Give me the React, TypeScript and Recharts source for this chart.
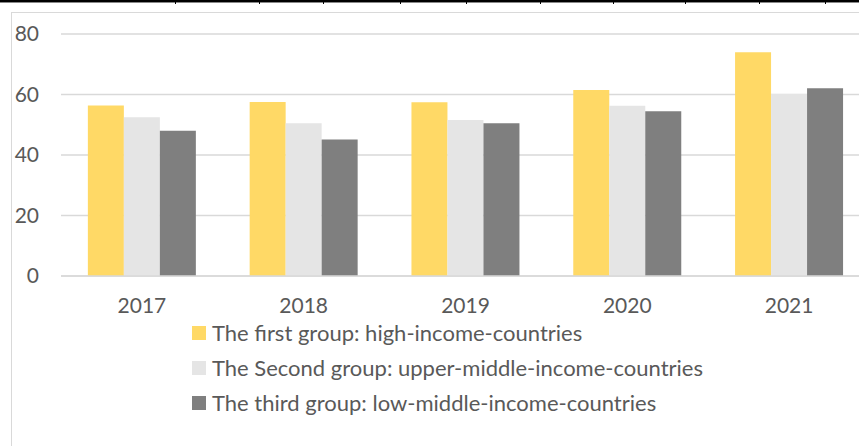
import { Bar, BarChart, CartesianGrid, Legend, XAxis, YAxis } from "recharts"

const years = ["2017", "2018", "2019", "2020", "2021"]
const firstGroup = [56.4, 57.5, 57.4, 61.5, 74.0]
const secondGroup = [52.5, 50.5, 51.6, 56.3, 60.2]
const thirdGroup = [48.0, 45.1, 50.5, 54.5, 62.1]
const yTicks = [0, 20, 40, 60, 80]
const topTicks = [175, 259, 323, 400, 466, 540, 613, 685, 759, 825]

const seriesKeys = ["first", "second", "third"]
const seriesNames: Record<string, string> = {
  first: "The first group: high-income-countries",
  second: "The Second group: upper-middle-income-countries",
  third: "The third group: low-middle-income-countries",
}

const data = years.map((year, i) => ({
  year,
  first: firstGroup[i],
  second: secondGroup[i],
  third: thirdGroup[i],
}))

const FONT = "Lato, 'Liberation Sans', sans-serif"
const TEXT = "#595959"

const LegendList = ({ payload }: { payload?: any[] }) => {
  // keep the series order, recharts sorts legend items by name
  const items = [...(payload ?? [])].sort(
    (a, b) => seriesKeys.indexOf(a.dataKey) - seriesKeys.indexOf(b.dataKey),
  )
  return (
    <div style={{ fontFamily: FONT, fontSize: 22, color: TEXT }}>
      {items.map((entry) => (
        <div
          key={entry.value}
          style={{ display: "flex", alignItems: "center", height: 35 }}
        >
          <span
            style={{
              width: 14,
              height: 14,
              background: entry.color,
              marginRight: 6,
              flex: "none",
            }}
          />
          <span style={{ whiteSpace: "nowrap" }}>{entry.value}</span>
        </div>
      ))}
    </div>
  )
}

export default function App() {
  return (
    <div
      style={{
        position: "absolute",
        left: 0,
        top: 0,
        width: 859,
        height: 446,
        overflow: "hidden",
        background: "#fff",
      }}
    >
      <div
        style={{
          position: "absolute",
          left: 0,
          top: 0,
          width: 859,
          height: 2,
          background: "#000",
          borderBottom: "1px solid #888",
        }}
      />
      {topTicks.map((x) => (
        <div
          key={x}
          style={{
            position: "absolute",
            left: x,
            top: 0,
            width: 1,
            height: 4,
            background: "#000",
          }}
        />
      ))}
      <div
        style={{
          position: "absolute",
          left: 11,
          top: 12,
          width: 900,
          height: 500,
          border: "1.5px solid #d9d9d9",
        }}
      />
      <div style={{ position: "absolute", left: 0, top: 0 }}>
        <BarChart
          width={880}
          height={446}
          data={data}
          margin={{ top: 34, right: 10, bottom: 130, left: 0 }}
          barCategoryGap="16.6%"
          barGap={0}
        >
          <CartesianGrid vertical={false} stroke="#d9d9d9" strokeWidth={1.5} />
          <XAxis
            dataKey="year"
            height={40}
            axisLine={{ stroke: "#d9d9d9", strokeWidth: 1.5 }}
            tickLine={false}
            tickSize={0}
            tickMargin={22}
            tick={{ fill: TEXT, fontSize: 21, fontFamily: FONT }}
          />
          <YAxis
            width={61}
            domain={[0, 80]}
            ticks={yTicks}
            axisLine={false}
            tickLine={false}
            tickSize={0}
            tickMargin={22}
            tick={{ fill: TEXT, fontSize: 21, fontFamily: FONT }}
          />
          <Legend
            layout="vertical"
            align="center"
            verticalAlign="middle"
            wrapperStyle={{ left: 192, top: 315, width: 620 }}
            content={<LegendList />}
          />
          <Bar
            dataKey="first"
            name={seriesNames.first}
            fill="#FFD966"
            isAnimationActive={false}
          />
          <Bar
            dataKey="second"
            name={seriesNames.second}
            fill="#E5E5E5"
            isAnimationActive={false}
          />
          <Bar
            dataKey="third"
            name={seriesNames.third}
            fill="#7F7F7F"
            isAnimationActive={false}
          />
        </BarChart>
      </div>
    </div>
  )
}
